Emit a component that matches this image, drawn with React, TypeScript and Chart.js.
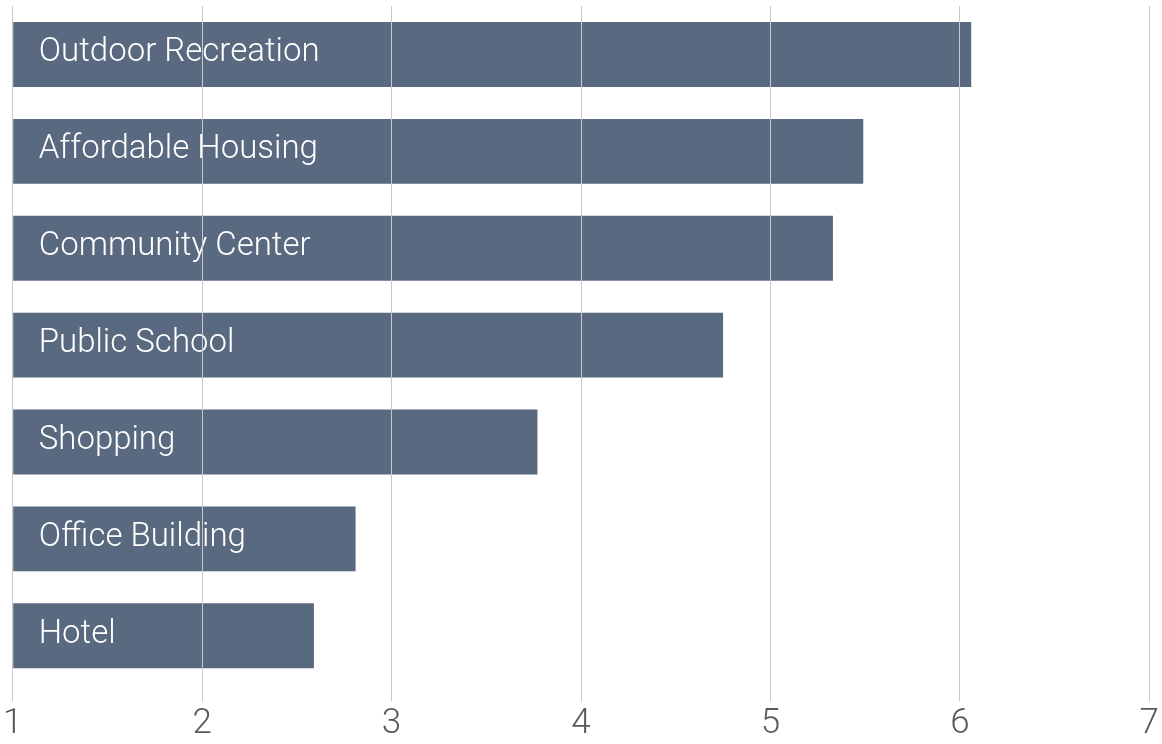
import React, { useEffect, useRef } from "react";
import { Chart, registerables } from "chart.js";

Chart.register(...registerables);

const categories = [
  "Outdoor Recreation",
  "Affordable Housing",
  "Community Center",
  "Public School",
  "Shopping",
  "Office Building",
  "Hotel",
];
const values = [6.06, 5.49, 5.33, 4.75, 3.77, 2.81, 2.59];
const tickValues = [1, 2, 3, 4, 5, 6, 7];

const barColor = "#586980";
const gridColor = "#c8c8c8";
const tickColor = "#5a5a5a";
const fontFamily = "'Roboto Light', Roboto, sans-serif";

const insideLabels = {
  id: "insideLabels",
  afterDatasetsDraw(chart: any) {
    const { ctx, chartArea } = chart;
    const meta = chart.getDatasetMeta(0);
    ctx.save();
    ctx.fillStyle = "#ffffff";
    ctx.font = `300 33px ${fontFamily}`;
    ctx.textBaseline = "middle";
    ctx.textAlign = "left";
    meta.data.forEach((bar: any, i: number) => {
      ctx.fillText(categories[i], chartArea.left + 26, bar.y - 3);
    });
    ctx.restore();
  },
};

export default function App() {
  const ref = useRef<HTMLCanvasElement>(null);
  useEffect(() => {
    if (!ref.current) return;
    const chart = new Chart(ref.current, {
      type: "bar",
      data: {
        labels: categories,
        datasets: [
          {
            data: values,
            backgroundColor: barColor,
            categoryPercentage: 1,
            barPercentage: 0.67,
            base: 1,
          },
        ],
      },
      options: {
        indexAxis: "y",
        animation: false,
        responsive: true,
        maintainAspectRatio: false,
        layout: { padding: { left: 11, right: 12, top: 6, bottom: 0 } },
        plugins: { legend: { display: false }, tooltip: { enabled: false } },
        scales: {
          x: {
            type: "linear",
            min: 1,
            max: 7,
            afterBuildTicks: (scale: any) => {
              scale.ticks = tickValues.map((v) => ({ value: v }));
            },
            grid: {
              color: gridColor,
              lineWidth: 1,
              z: 1,
              drawTicks: true,
              tickLength: 17,
            },
            border: { display: false },
            ticks: {
              color: tickColor,
              font: { family: fontFamily, size: 35, weight: "300", lineHeight: 1.05 },
              padding: 3,
              maxRotation: 0,
            },
          },
          y: {
            display: false,
          },
        },
      },
      plugins: [insideLabels],
    });
    return () => chart.destroy();
  }, []);
  return (
    <div style={{ position: "fixed", left: 0, top: 0, width: 1162, height: 744 }}>
      <canvas ref={ref} />
    </div>
  );
}
